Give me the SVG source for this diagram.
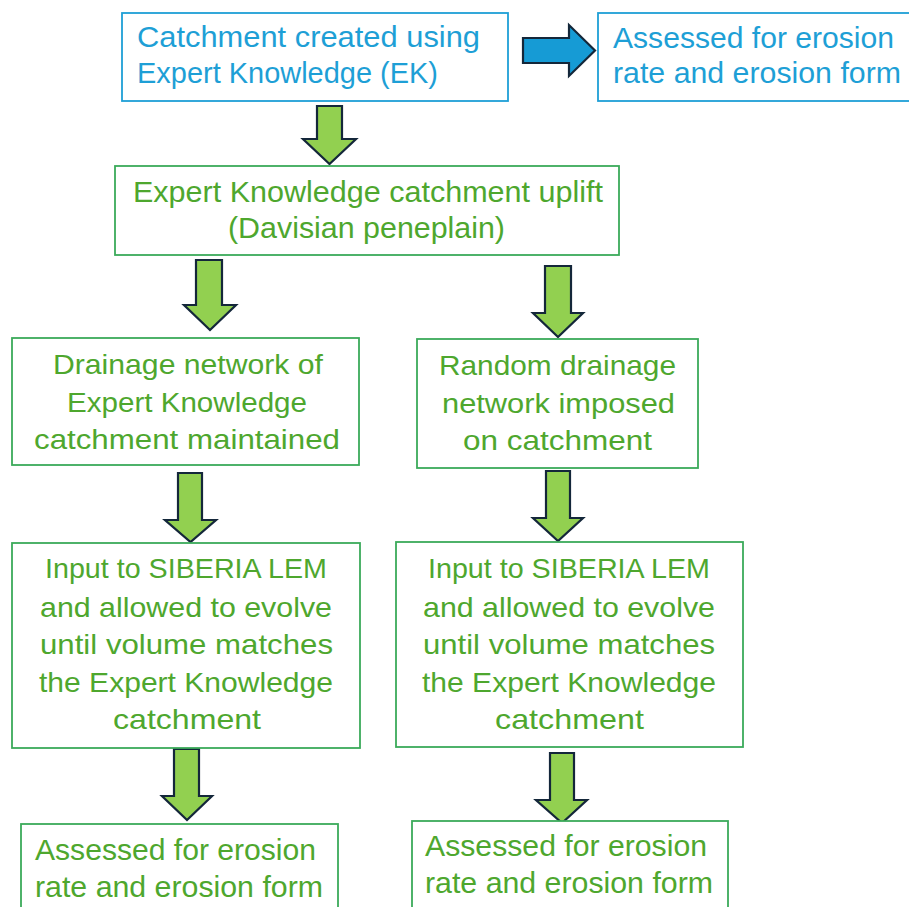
<svg xmlns="http://www.w3.org/2000/svg" width="909" height="907" viewBox="0 0 909 907">
<style>
  .bbox{fill:#ffffff;stroke:#1E9FD6;stroke-width:1.8}
  .gbox{fill:#ffffff;stroke:#3BAA5A;stroke-width:1.8}
  .bt{font-family:"Liberation Sans",Arial,sans-serif;font-size:29.5px;fill:#1E9FD6}
  .gt{font-family:"Liberation Sans",Arial,sans-serif;fill:#4EA72E}
  .s28{font-size:29.5px}
  .s26{font-size:27.5px}
  .s27{font-size:28.5px}
  .ga{fill:#92D050;stroke:#14273A;stroke-width:2.2;stroke-linejoin:miter}
  .ba{fill:#169BD5;stroke:#14273A;stroke-width:2.2;stroke-linejoin:miter}
</style>
<rect width="909" height="907" fill="#ffffff"/>
<g id="connectors">
  <polygon class="ba" points="523,38 569,38 569,25 595,50.5 569,76 569,63 523,63"/>
  <polygon class="ga" points="317,106 342,106 342,139 356,139 329.5,164 303,139 317,139"/>
  <polygon class="ga" points="196,260 222,260 222,305 236,305 210,330 184,305 196,305"/>
  <polygon class="ga" points="545,266 571,266 571,313 583,313 558,337 533,313 545,313"/>
  <polygon class="ga" points="178,473 202,473 202,520 216,520 190.5,542 165,520 178,520"/>
  <polygon class="ga" points="546,471 570,471 570,518 583,518 558,541 533,518 546,518"/>
  <polygon class="ga" points="174,749 199,749 199,796 212,796 187,820 162,796 174,796"/>
  <polygon class="ga" points="550,753 574,753 574,800 587,800 562,823 536,800 550,800"/>
</g>
<g id="n1">
  <rect class="bbox" x="122" y="13" width="386" height="88"/>
  <text class="bt" x="137" y="47" textLength="343" lengthAdjust="spacingAndGlyphs">Catchment created using</text>
  <text class="bt" x="137" y="83" textLength="301" lengthAdjust="spacingAndGlyphs">Expert Knowledge (EK)</text>
</g>
<g id="n2">
  <rect class="bbox" x="598" y="13" width="316" height="88"/>
  <text class="bt" x="613" y="48" textLength="281" lengthAdjust="spacingAndGlyphs">Assessed for erosion</text>
  <text class="bt" x="613" y="83" textLength="288" lengthAdjust="spacingAndGlyphs">rate and erosion form</text>
</g>
<g id="n3">
  <rect class="gbox" x="115" y="166" width="504" height="89"/>
  <text class="gt s28" x="133" y="202" textLength="470" lengthAdjust="spacingAndGlyphs">Expert Knowledge catchment uplift</text>
  <text class="gt s28" x="228" y="238" textLength="277" lengthAdjust="spacingAndGlyphs">(Davisian peneplain)</text>
</g>
<g id="n4">
  <rect class="gbox" x="12" y="338" width="347" height="127"/>
  <text class="gt s26" x="53" y="374" textLength="270" lengthAdjust="spacingAndGlyphs">Drainage network of</text>
  <text class="gt s26" x="67" y="412" textLength="240" lengthAdjust="spacingAndGlyphs">Expert Knowledge</text>
  <text class="gt s26" x="34" y="449" textLength="306" lengthAdjust="spacingAndGlyphs">catchment maintained</text>
</g>
<g id="n5">
  <rect class="gbox" x="417" y="339" width="281" height="129"/>
  <text class="gt s26" x="439" y="375" textLength="237" lengthAdjust="spacingAndGlyphs">Random drainage</text>
  <text class="gt s26" x="442" y="413" textLength="233" lengthAdjust="spacingAndGlyphs">network imposed</text>
  <text class="gt s26" x="463" y="450" textLength="189" lengthAdjust="spacingAndGlyphs">on catchment</text>
</g>
<g id="n6">
  <rect class="gbox" x="12" y="543" width="348" height="205"/>
  <text class="gt s27" x="45" y="578" textLength="282" lengthAdjust="spacingAndGlyphs">Input to SIBERIA LEM</text>
  <text class="gt s27" x="40" y="617" textLength="292" lengthAdjust="spacingAndGlyphs">and allowed to evolve</text>
  <text class="gt s27" x="40" y="654" textLength="293" lengthAdjust="spacingAndGlyphs">until volume matches</text>
  <text class="gt s27" x="39" y="692" textLength="294" lengthAdjust="spacingAndGlyphs">the Expert Knowledge</text>
  <text class="gt s27" x="113" y="729" textLength="148" lengthAdjust="spacingAndGlyphs">catchment</text>
</g>
<g id="n7">
  <rect class="gbox" x="396" y="542" width="347" height="205"/>
  <text class="gt s27" x="428" y="578" textLength="282" lengthAdjust="spacingAndGlyphs">Input to SIBERIA LEM</text>
  <text class="gt s27" x="423" y="617" textLength="292" lengthAdjust="spacingAndGlyphs">and allowed to evolve</text>
  <text class="gt s27" x="423" y="654" textLength="292" lengthAdjust="spacingAndGlyphs">until volume matches</text>
  <text class="gt s27" x="422" y="692" textLength="294" lengthAdjust="spacingAndGlyphs">the Expert Knowledge</text>
  <text class="gt s27" x="495" y="729" textLength="149" lengthAdjust="spacingAndGlyphs">catchment</text>
</g>
<g id="n8">
  <rect class="gbox" x="21" y="824" width="317" height="100"/>
  <text class="gt s28" x="35" y="860" textLength="281" lengthAdjust="spacingAndGlyphs">Assessed for erosion</text>
  <text class="gt s28" x="35" y="897" textLength="288" lengthAdjust="spacingAndGlyphs">rate and erosion form</text>
</g>
<g id="n9">
  <rect class="gbox" x="412" y="821" width="316" height="100"/>
  <text class="gt s28" x="425" y="856" textLength="282" lengthAdjust="spacingAndGlyphs">Assessed for erosion</text>
  <text class="gt s28" x="425" y="893" textLength="288" lengthAdjust="spacingAndGlyphs">rate and erosion form</text>
</g>
</svg>
